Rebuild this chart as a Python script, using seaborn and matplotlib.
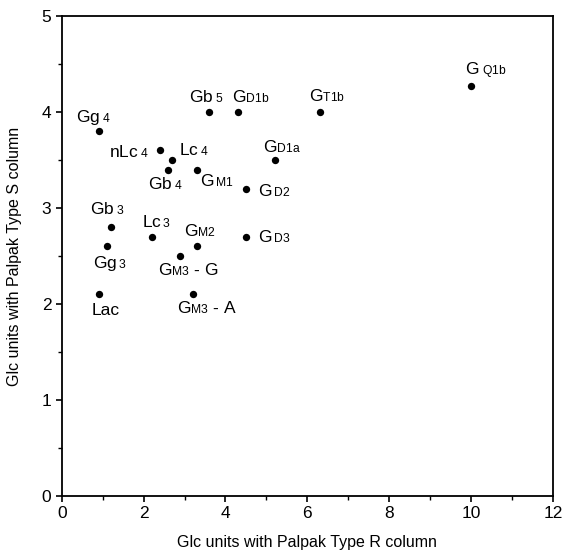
import matplotlib
matplotlib.use("Agg")
import matplotlib.pyplot as plt
import seaborn as sns
import pandas as pd
from matplotlib.ticker import MultipleLocator

try:
    import matplotlib._mathtext as _mt
    _mt.FontConstantsBase.subdrop = 0.1
    _mt.FontConstantsBase.sub1 = 0.05
except Exception:
    pass

labels = ["G$_{\\rm\\ Q1b}$", "Gg$_{\\rm\\ 4}$", "Gb$_{\\rm\\ 5}$", "G$_{\\rm D1b}$", "G$_{\\rm T1b}$",
          "nLc$_{\\rm\\ 4}$", "Lc$_{\\rm\\ 4}$", "G$_{\\rm D1a}$", "Gb$_{\\rm\\ 4}$", "G$_{\\rm\\,M1}$",
          "G$_{\\rm\\,D2}$", "Gb$_{\\rm\\ 3}$", "Lc$_{\\rm\\,3}$", "G$_{\\rm\\,D3}$", "G$_{\\rm M2}$",
          "Gg$_{\\rm\\,3}$", "G$_{\\rm M3}$ - G", "Lac", "G$_{\\rm M3}$ - A"]
r_column = [10.0, 0.9, 3.6, 4.3, 6.3, 2.4, 2.7, 5.2, 2.6, 3.3, 4.5, 1.2, 2.2, 4.5, 3.3, 1.1, 2.9, 0.9, 3.2]
s_column = [4.27, 3.8, 4.0, 4.0, 4.0, 3.6, 3.5, 3.5, 3.4, 3.4, 3.2, 2.8, 2.7, 2.7, 2.6, 2.6, 2.5, 2.1, 2.1]

# label offsets in pixels (dx, dy) and horizontal alignment
offsets = [(15, 15, "center"), (-5, 14, "center"), (-3, 15, "center"), (13, 15, "center"), (7, 16, "center"),
           (-11, -2, "right"), (7, 10, "left"), (7, 13, "center"), (-3, -15, "center"), (20, -12, "center"),
           (12, -2, "left"), (-3, 18, "center"), (4, 15, "center"), (12, 0, "left"), (3, 15, "center"),
           (3, -17, "center"), (8, -14, "center"), (7, -16, "center"), (14, -14, "center")]

df = pd.DataFrame({"r": r_column, "s": s_column, "label": labels})

sns.set_theme(style="ticks")
plt.rcParams["font.family"] = ["Liberation Sans", "DejaVu Sans"]
plt.rcParams["mathtext.fontset"] = "custom"
plt.rcParams["mathtext.rm"] = "Liberation Sans"
plt.rcParams["mathtext.it"] = "Liberation Sans"

fig = plt.figure(figsize=(5.66, 5.56), dpi=100)
ax = fig.add_axes([0.109, 0.108, 0.868, 0.863])

sns.scatterplot(data=df, x="r", y="s", ax=ax, color="black", s=28, edgecolor="black", linewidth=0)

for (x, y, lab), (dx, dy, ha) in zip(zip(r_column, s_column, labels), offsets):
    ax.annotate(lab, (x, y), xytext=(dx, dy), textcoords="offset pixels",
                ha=ha, va="center", fontsize=12.5, color="black")

ax.set_xlim(0, 12)
ax.set_ylim(0, 5)
ax.xaxis.set_major_locator(MultipleLocator(2))
ax.xaxis.set_minor_locator(MultipleLocator(1))
ax.yaxis.set_major_locator(MultipleLocator(1))
ax.yaxis.set_minor_locator(MultipleLocator(0.5))
ax.tick_params(axis="both", which="major", direction="out", length=4, width=1.2, labelsize=12.5, color="black", labelcolor="black")
ax.tick_params(axis="both", which="minor", direction="out", length=3, width=1.0, color="black")
for sp in ax.spines.values():
    sp.set_visible(True)
    sp.set_color("black")
    sp.set_linewidth(1.3)

ax.set_xlabel("Glc units with Palpak Type R column", fontsize=11.5, labelpad=10, color="black")
ax.set_ylabel("Glc units with Palpak Type S column", fontsize=11.5, labelpad=14, color="black")
ax.grid(False)

fig.savefig("out.png", dpi=100)
